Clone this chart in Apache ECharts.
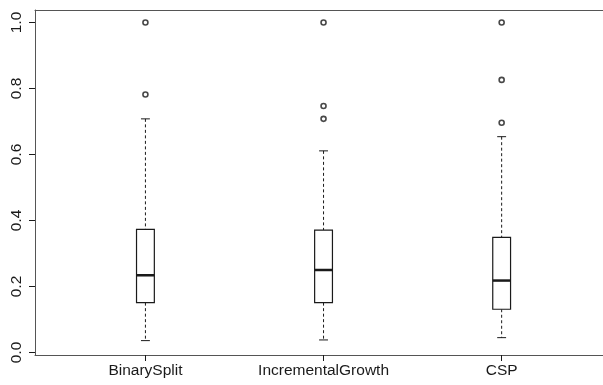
<!DOCTYPE html>
<html>
<head>
<meta charset="utf-8">
<script src="https://cdn.jsdelivr.net/npm/echarts@6/dist/echarts.min.js"></script>
<style>
html,body{margin:0;padding:0;background:#fff;overflow:hidden;}
#chart{width:603px;height:385px;}
</style>
</head>
<body>
<div id="chart"></div>
<script>
// ---- data ----
const categories = ['BinarySplit', 'IncrementalGrowth', 'CSP'];
const lowerWhisker = [0.036, 0.038, 0.045];
const q1 = [0.151, 0.151, 0.131];
const median = [0.234, 0.250, 0.218];
const q3 = [0.373, 0.371, 0.349];
const upperWhisker = [0.708, 0.611, 0.654];
const outliers = [
  [1.0, 0.782],
  [1.0, 0.747, 0.708],
  [1.0, 0.826, 0.696]
];
const yTicks = [0, 0.2, 0.4, 0.6, 0.8, 1.0];
const xTicks = [1, 2, 3];

// ---- build series data ----
const boxData = categories.map((c, i) => [i + 1, lowerWhisker[i], q1[i], median[i], q3[i], upperWhisker[i]]);
const outlierData = [];
outliers.forEach((arr, i) => arr.forEach(v => outlierData.push([i + 1, v])));

const chart = echarts.init(document.getElementById('chart'), null, {renderer: 'canvas'});
const ink = '#1a1a1a';
const frame = '#555';
const font = '"Liberation Sans", Arial, Helvetica, sans-serif';
const xMin = 0.38, xMax = 3.569;

const option = {
  animation: false,
  backgroundColor: '#fff',
  grid: {left: 35, right: 0, top: 10, bottom: 30, show: false},
  xAxis: [
    {
      type: 'value',
      min: xMin, max: xMax,
      axisLine: {show: true, onZero: false, lineStyle: {color: frame, width: 1}},
      splitLine: {show: false},
      axisTick: {show: true, customValues: xTicks, length: 6, lineStyle: {color: ink, width: 1}},
      axisLabel: {
        customValues: xTicks,
        formatter: v => categories[Math.round(v) - 1] || '',
        color: ink, fontSize: 15.5, fontFamily: font, margin: 8
      }
    },
    {
      type: 'value', position: 'top',
      min: xMin, max: xMax,
      axisLine: {show: true, onZero: false, lineStyle: {color: frame, width: 1}},
      splitLine: {show: false}, axisTick: {show: false}, axisLabel: {show: false}
    }
  ],
  yAxis: {
    type: 'value',
    min: -0.0076, max: 1.0379,
    axisLine: {show: true, onZero: false, lineStyle: {color: frame, width: 1}},
    splitLine: {show: false},
    axisTick: {show: true, customValues: yTicks, length: 6, lineStyle: {color: ink, width: 1}},
    axisLabel: {
      customValues: yTicks,
      formatter: v => v.toFixed(1),
      rotate: 90,
      color: ink, fontSize: 15.5, fontFamily: font, margin: 10
    }
  },
  series: [
    {
      type: 'custom',
      data: boxData,
      encode: {x: 0, y: [1, 2, 3, 4, 5]},
      clip: false,
      renderItem: function (params, api) {
        const x = api.value(0);
        const pMin = api.coord([x, api.value(1)]);
        const pQ1 = api.coord([x, api.value(2)]);
        const pMed = api.coord([x, api.value(3)]);
        const pQ3 = api.coord([x, api.value(4)]);
        const pMax = api.coord([x, api.value(5)]);
        const half = api.size([0.1, 0])[0] / 2;
        const capHalf = half / 2;
        const cx = pMed[0];
        const dashStyle = {stroke: ink, lineWidth: 1, lineDash: [3, 2.5], fill: null};
        const solid = {stroke: ink, lineWidth: 1, fill: null};
        return {
          type: 'group',
          children: [
            {type: 'line', shape: {x1: cx, y1: pMax[1], x2: cx, y2: pQ3[1]}, style: dashStyle},
            {type: 'line', shape: {x1: cx, y1: pQ1[1], x2: cx, y2: pMin[1]}, style: dashStyle},
            {type: 'line', shape: {x1: cx - capHalf, y1: pMax[1], x2: cx + capHalf, y2: pMax[1]}, style: solid},
            {type: 'line', shape: {x1: cx - capHalf, y1: pMin[1], x2: cx + capHalf, y2: pMin[1]}, style: solid},
            {type: 'rect', shape: {x: cx - half, y: pQ3[1], width: half * 2, height: pQ1[1] - pQ3[1]},
              style: {stroke: ink, lineWidth: 1.2, fill: '#fff'}},
            {type: 'line', shape: {x1: cx - half, y1: pMed[1], x2: cx + half, y2: pMed[1]},
              style: {stroke: ink, lineWidth: 2.5}}
          ]
        };
      }
    },
    {
      type: 'scatter',
      data: outlierData,
      symbol: 'circle',
      symbolSize: 5,
      itemStyle: {color: '#fff', borderColor: ink, borderWidth: 1.6},
      z: 5
    }
  ]
};
chart.setOption(option);
</script>
</body>
</html>
